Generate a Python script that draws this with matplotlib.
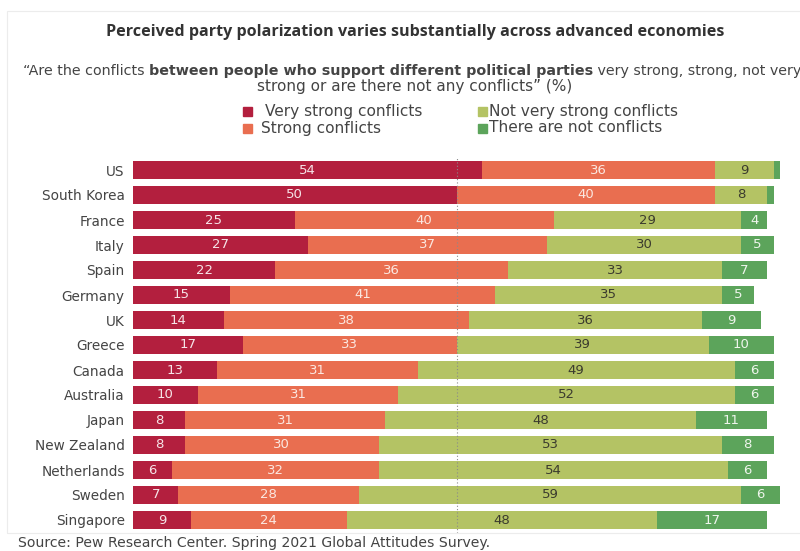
import matplotlib
matplotlib.use('Agg')
import matplotlib.pyplot as plt
from matplotlib.patches import Rectangle

countries = ["US", "South Korea", "France", "Italy", "Spain", "Germany", "UK", "Greece",
             "Canada", "Australia", "Japan", "New Zealand", "Netherlands", "Sweden", "Singapore"]
very_strong = [54, 50, 25, 27, 22, 15, 14, 17, 13, 10, 8, 8, 6, 7, 9]
strong = [36, 40, 40, 37, 36, 41, 38, 33, 31, 31, 31, 30, 32, 28, 24]
not_very = [9, 8, 29, 30, 33, 35, 36, 39, 49, 52, 48, 53, 54, 59, 48]
no_conflict = [1, 1, 4, 5, 7, 5, 9, 10, 6, 6, 11, 8, 6, 6, 17]
series_names = ["Very strong conflicts", "Strong conflicts",
                "Not very strong conflicts", "There are not conflicts"]
series = [very_strong, strong, not_very, no_conflict]
colors = ["#b31f3e", "#e96e50", "#b4c364", "#5ca45b"]
label_colors = ["#f6e4e8", "#fbe7e0", "#3b3b2e", "#eef5ec"]

title = "Perceived party polarization varies substantially across advanced economies"
sub_parts = [("\u201cAre the conflicts ", "normal"),
             ("between people who support different political parties", "bold"),
             (" very strong, strong, not very", "normal")]
sub_line2 = "strong or are there not any conflicts\u201d (%)"
source = "Source: Pew Research Center. Spring 2021 Global Attitudes Survey."

W, H = 800, 551
fig = plt.figure(figsize=(8, 5.51), dpi=100)
fig.patch.set_facecolor("white")


def fx(px):
    return px / W


def fy(py):
    return 1 - py / H


# faint frame
fig.add_artist(Rectangle((fx(7), fy(532.5)), fx(820) - fx(7), (532.5 - 11) / H,
                         transform=fig.transFigure, fill=False, edgecolor="#ececec", lw=0.8))

ax = fig.add_axes([fx(133), fy(532.5), fx(780) - fx(133), (532.5 - 157.5) / H])
ys = list(range(len(countries)))
left = [0] * len(countries)
for k, vals in enumerate(series):
    ax.barh(ys, vals, left=left, height=0.73, color=colors[k], zorder=2)
    for i, (v, l) in enumerate(zip(vals, left)):
        if v >= 2:
            ax.text(l + v / 2, i, str(v), ha="center", va="center",
                    color=label_colors[k], fontsize=9.5, zorder=4)
    left = [a + b for a, b in zip(left, vals)]

ax.set_xlim(0, 100)
ax.set_ylim(len(countries) - 0.5, -0.5)
ax.set_yticks(ys)
ax.set_yticklabels(countries, fontsize=9.8, color="#444444")
ax.tick_params(axis="y", length=0, pad=6)
ax.set_xticks([])
for s in ax.spines.values():
    s.set_visible(False)
ax.axvline(50, color="#8a8a8a", ls=(0, (1, 2)), lw=0.8, zorder=3)

fig.canvas.draw()
r = fig.canvas.get_renderer()


def width(t):
    return t.get_window_extent(renderer=r).width


def fit(t, target):
    w = width(t)
    t.set_fontsize(t.get_fontsize() * target / w)


# title
tt = fig.text(fx(415), fy(32), title, ha="center", va="center", fontsize=11,
              fontweight="bold", family="Open Sans", color="#333333")
fit(tt, 615)

# subtitle line 2 first (sets size)
t2 = fig.text(fx(415), fy(87), sub_line2, ha="center", va="center",
              fontsize=10, color="#444444")
fit(t2, 315)
fs = t2.get_fontsize()

# subtitle line 1 (mixed weight)
texts = []
for s, wgt in sub_parts:
    texts.append(fig.text(0, fy(71), s, ha="left", va="center", fontsize=fs,
                          fontweight=wgt, color="#444444"))
total = sum(width(t) for t in texts)
if total > 772:
    for t in texts:
        t.set_fontsize(t.get_fontsize() * 772 / total)
ws = [width(t) for t in texts]
x0 = 412 - sum(ws) / 2
for t, w in zip(texts, ws):
    t.set_x(fx(x0))
    x0 += w

# legend
leg_pos = [(243, 265, 111), (243, 261, 128), (478, 489, 111), (478, 489, 128)]
leg_texts = []
for k, name in enumerate(series_names):
    sx, tx, ly = leg_pos[k]
    fig.add_artist(Rectangle((fx(sx), fy(ly + 4.5)), 9 / W, 9 / H,
                             transform=fig.transFigure, color=colors[k]))
    leg_texts.append(fig.text(fx(tx), fy(ly), name, ha="left", va="center",
                              fontsize=10.5, color="#444444"))
fit(leg_texts[2], 189)
for t in leg_texts:
    t.set_fontsize(leg_texts[2].get_fontsize())

# source
st = fig.text(fx(18), fy(543), source, ha="left", va="center", fontsize=10,
              color="#444444")
fit(st, 470)

fig.savefig("out.png", dpi=100, facecolor="white")
